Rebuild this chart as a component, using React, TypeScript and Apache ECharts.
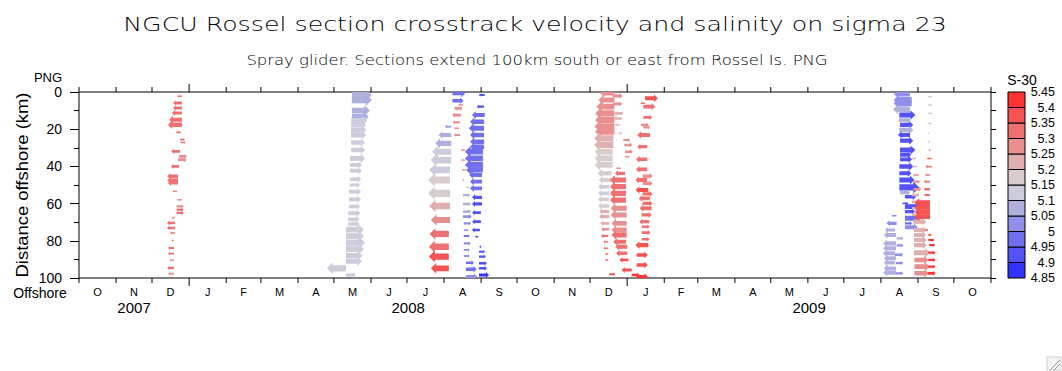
import React, { useEffect, useRef } from "react";
import * as echarts from "echarts";

const TITLE = "NGCU Rossel section crosstrack velocity and salinity on sigma 23";
const SUBTITLE = "Spray glider. Sections extend 100km south or east from Rossel Is. PNG";
const MONTH_LABELS = ["O","N","D","J","F","M","A","M","J","J","A","S","O","N","D","J","F","M","A","M","J","J","A","S","O"];
const YEAR_LABELS = ["2007", "2008", "2009"];
const SAL_LEVELS = [4.85, 4.9, 4.95, 5, 5.05, 5.1, 5.15, 5.2, 5.25, 5.3, 5.35, 5.4, 5.45];
const SAL_COLORS = ["#3333ff","#5252f5","#7070ee","#9090e8","#b0b0e0","#ccccdd","#d8cccc","#e0b0b0","#e89090","#ee7070","#f55252","#ff3333"];

// rows: [days since 1 Oct 2007, distance offshore km, crosstrack velocity cm/s (+ = right), salinity-30]
const dec2007 = [
  [86, 2.3, -12, 5.32], [86, 5.9, -22, 5.32], [86, 8.6, -22, 5.32], [86, 11.3, -25, 5.32],
  [86, 14.9, -32, 5.32], [86, 17.6, -35, 5.32], [85, 21.7, -12, 5.32], [84.4, 25.6, 12, 5.32],
  [85, 27.1, 12, 5.32], [84.4, 31.9, -22, 5.32], [83.5, 34.6, 20, 5.27], [82.7, 36.4, 22, 5.27],
  [83.5, 40, -20, 5.32], [82.7, 45.3, -27, 5.32], [82.7, 47.5, -27, 5.32], [82.7, 48.9, -25, 5.32],
  [82, 53.4, -12, 5.27], [82, 57.9, 12, 5.27], [81.5, 61.5, 18, 5.27], [81.5, 63.2, 18, 5.32],
  [81.5, 65, 18, 5.32], [80.2, 67.7, -8, 5.32], [80.2, 70.4, -20, 5.32], [80.2, 73.1, -20, 5.32],
  [80.2, 75.8, -12, 5.32], [79, 79.9, -5, 5.32], [79.4, 83.9, -15, 5.32], [79.4, 86.9, -15, 5.32],
  [79.4, 90.5, -12, 5.27], [79.4, 94.6, -17, 5.32], [79.4, 97.7, -15, 5.27],
];
const may2008 = [
  [228, 1.6, 50, 5.07], [228, 4.3, 50, 5.07], [228, 10, 45, 5.07], [228, 13.3, 42, 5.07],
  [227.5, 15.4, 40, 5.12], [227.3, 17.7, 38, 5.12], [227.3, 20.4, 38, 5.12], [227.3, 23.1, 38, 5.12],
  [227.3, 27.2, 35, 5.12], [227.3, 31.2, 35, 5.12], [226.4, 35.7, 38, 5.12], [226.4, 39.2, 30, 5.12],
  [226.4, 42.3, 30, 5.12], [226.4, 46.9, 28, 5.12], [226.4, 50, 25, 5.12], [225.6, 53.6, 30, 5.12],
  [225.6, 57.7, 30, 5.12], [225.6, 61.6, 28, 5.12], [225, 65.2, 30, 5.12], [225, 68.5, 28, 5.12],
  [225, 71, 28, 5.12], [223, 74, 45, 5.12], [223, 77.5, 45, 5.12], [223, 81, 48, 5.12],
  [223, 84.5, 45, 5.12], [223, 88, 42, 5.12], [223, 91, 40, 5.12], [223.1, 94.8, -48, 5.12],
  [223, 98.4, 25, 5.12],
];
const aug2008A = [
  [311, 18.6, -15, 5.02], [311, 23.1, -32, 5.07], [311, 27.6, -40, 5.07], [311, 32.1, -48, 5.12],
  [311, 36.6, -52, 5.12], [310, 41.9, -52, 5.12], [310, 47.3, -55, 5.17], [310, 54.5, -55, 5.17],
  [310, 61.3, -52, 5.22], [310, 68.8, -48, 5.27], [309, 76.3, -48, 5.32], [309, 83.2, -50, 5.32],
  [309, 88.5, -50, 5.37], [309, 94.8, -45, 5.37],
];
const aug2008B = [
  [312, 0.7, 32, 4.97], [312, 4.7, 28, 4.97], [320.8, 7, -12, 5.27], [320, 8.8, -20, 5.27],
  [319.2, 12.4, -22, 5.27], [318.3, 16.3, -18, 5.27], [317.5, 19.5, -12, 5.27], [318.3, 23.1, -15, 5.27],
  [322.5, 31.2, -10, 5.27], [322.5, 36.6, -10, 5.27], [323.3, 41.9, -10, 5.27], [321.5, 47.3, -4, 5.27],
  [323.3, 51.3, 10, 5.12], [320.8, 55.4, 18, 5.07], [320.8, 60.2, 20, 5.07], [320.8, 64.3, 20, 5.07],
  [320.8, 67, 22, 5.02], [321.5, 70.6, 18, 5.02], [321.5, 74.2, 12, 5.02], [321.5, 77.4, 15, 4.97],
  [321.5, 81.4, 17, 5.02], [321.5, 84.9, 15, 5.02], [321.5, 88.2, 15, 5.02], [323.3, 91.8, 20, 4.97],
  [323.3, 95.3, 27, 4.97], [323.3, 99.3, 28, 5.02],
];
const aug2008C = [
  [339, 1.6, -15, 4.92], [338.4, 7.9, -18, 4.92], [339, 12.4, -32, 4.97], [338.4, 16, -35, 4.97],
  [338.4, 19.5, -38, 4.97], [338.4, 23.1, -35, 4.97], [338.4, 26.7, -35, 4.97], [338.4, 29.4, -35, 4.97],
  [337.5, 32.1, -45, 4.97], [337.5, 35.7, -45, 4.97], [337.5, 39.2, -45, 4.97], [337.5, 41.9, -42, 4.97],
  [336.7, 44.6, -32, 4.97], [336.7, 48.2, -30, 4.97], [336.7, 51.8, -30, 4.97], [336.7, 56.6, -25, 4.92],
  [336.7, 60.2, -25, 4.92], [335.8, 64.9, -22, 4.92], [335.8, 69.7, -22, 4.92], [335, 74.2, -20, 4.92],
  [333.5, 77.8, -8, 4.92], [336, 83.2, -5, 4.92], [334.2, 85.9, 15, 4.92], [334.2, 88.5, 17, 4.92],
  [334.2, 92.1, 20, 4.92], [334.2, 94.8, 20, 4.92], [334.2, 98.4, 25, 4.87],
];
const dec2008A = [
  [447.3, 0.7, -35, 5.27], [447.3, 4.3, -40, 5.27], [447.3, 7.9, -45, 5.27], [447.3, 11.5, -48, 5.27],
  [447.3, 15.1, -48, 5.27], [447.3, 18.6, -50, 5.27], [447.3, 21.3, -48, 5.27], [446.4, 24.9, -48, 5.22],
  [446.4, 28.5, -48, 5.22], [445.9, 32.1, -45, 5.17], [445.9, 35.7, -45, 5.17], [445.9, 39.2, -45, 5.17],
  [445, 43.7, -35, 5.17], [445, 47.3, -32, 5.17], [443, 50.9, -28, 5.12], [443, 54.5, -28, 5.12],
  [443, 57.7, -28, 5.17], [443, 61.3, -28, 5.17], [443, 64.3, -25, 5.22], [443, 67, -25, 5.22],
  [443, 70.6, -22, 5.22], [443, 73.8, -20, 5.27], [442.2, 77.4, -18, 5.32], [442.2, 80.5, -12, 5.32],
  [442.2, 84, -12, 5.32], [442.2, 87.1, -8, 5.32], [442.2, 90.3, -8, 5.32], [443, 98, 15, 5.37],
];
const dec2008B = [
  [445.9, 2.1, 25, 5.27], [446.4, 6.4, 22, 5.27], [454.3, 11.5, -22, 5.22], [453.5, 14.2, -20, 5.22],
  [451.8, 17.7, -12, 5.22], [453.5, 22.2, -8, 5.22], [454.8, 25.8, 17, 5.27], [455.6, 28.5, 20, 5.27],
  [456.2, 32.1, 20, 5.27], [456.2, 34.8, 12, 5.27], [452.7, 41, -12, 5.27], [456.2, 43.7, -25, 5.32],
  [457, 47.3, -40, 5.32], [457, 50.9, -40, 5.32], [457, 54.5, -40, 5.32], [457, 58.1, -40, 5.32],
  [457.6, 62.5, -40, 5.27], [457.6, 66.1, -40, 5.27], [457.6, 70.6, -38, 5.27], [457.6, 74.2, -38, 5.27],
  [457.6, 76.9, -38, 5.32], [457, 80.5, -32, 5.32], [458.1, 83.2, -30, 5.32], [458.1, 86.7, -28, 5.32],
  [459, 90.3, -22, 5.37], [461.8, 95.7, -25, 5.37], [461.8, 98.4, 20, 5.42],
];
const jan2009 = [
  [473, 3.4, 32, 5.37], [473, 6.1, -12, 5.32], [471.5, 7.9, 30, 5.32], [471.5, 13.6, 22, 5.32],
  [469.5, 17.7, 20, 5.27], [471.5, 19, 17, 5.27], [477.1, 23.1, -32, 5.32], [474.8, 29.4, -25, 5.32],
  [474.8, 36.2, -28, 5.32], [474.8, 41.6, -28, 5.32], [470.9, 45.2, 25, 5.27], [474.8, 47.3, -30, 5.32],
  [470.9, 49.1, 25, 5.27], [475.7, 52.7, -32, 5.37], [470.9, 54.8, 25, 5.32], [477, 57.2, -28, 5.32],
  [470.9, 59.9, 25, 5.32], [478.4, 62.5, -30, 5.32], [470.1, 66.1, 25, 5.32], [476.5, 69.7, -25, 5.32],
  [470.1, 72.4, 20, 5.32], [470.1, 75.6, 22, 5.32], [470.1, 79.2, 20, 5.32], [475.7, 82.3, -32, 5.37],
  [465.9, 87.6, 28, 5.37], [465.9, 93, 28, 5.37], [465.9, 99.3, 28, 5.42],
];
const aug2009 = [
  [694.3, 1.1, -40, 5.02], [695.7, 4.3, -45, 5.02], [695.7, 6.1, -45, 5.02], [694.3, 9.3, -42, 5.07],
  [685.4, 12.4, 40, 4.92], [685, 15.1, 30, 5.07], [686, 17.7, 33, 4.92], [685.4, 20.4, 35, 5.07],
  [694.3, 23.1, -30, 4.92], [686, 26.2, 33, 4.92], [686, 31.2, 38, 4.92], [686, 33.8, 28, 4.92],
  [686, 36.2, 30, 4.92], [685.4, 40.1, 35, 4.92], [685.4, 43.7, 30, 4.92], [685.4, 47.3, 38, 4.92],
  [685.4, 51.3, 50, 4.92], [686, 54.1, 25, 5.07], [690.1, 56.3, 28, 4.92], [688, 59.9, 15, 4.92],
  [690.1, 61.6, 38, 4.92], [690.1, 64.3, 25, 4.92], [683.1, 66.5, -12, 5.02], [690.1, 67.9, 38, 4.97],
  [683.1, 70.6, -25, 5.02], [690.1, 70.6, 18, 4.97], [690.1, 72.7, 32, 5.02], [681.8, 74.2, -25, 5.07],
  [682.6, 76.9, -30, 5.07], [683.1, 78.7, 17, 5.07], [682.6, 81.4, -32, 5.07], [683.1, 82.5, 17, 5.02],
  [682.6, 84, -32, 5.07], [681.8, 86.7, -30, 5.07], [681.8, 87.5, 20, 5.02], [682.6, 89.4, -30, 5.07],
  [681.8, 91.8, -28, 5.07], [682.6, 92, 18, 5.02], [682.6, 94.8, -30, 5.07], [682.6, 97.1, -32, 5.07],
  [682.6, 97.5, 18, 5.02],
];
const sep2009A = [
  [695.7, 35.7, 12, 5.22], [696.5, 40.1, 12, 5.22], [697.1, 44.6, 15, 5.22], [697.1, 48.2, 17, 5.27],
  [697.1, 52.3, 20, 5.27], [695.7, 55.4, 20, 5.22], [696, 59, 18, 5.22], [696, 62.5, 18, 5.22],
  [696, 66, 18, 5.22], [697.1, 69.7, 32, 5.22], [697.6, 74.2, 32, 5.22], [697.6, 76.9, 30, 5.22],
  [697.6, 79.6, 32, 5.22], [697.6, 82.3, 32, 5.22], [697.6, 86.4, 40, 5.22], [698, 90.3, 35, 5.27],
  [698, 93.9, 38, 5.27], [698, 97.5, 35, 5.27],
];
const sep2009B = [
  [709.6, 2.5, 10, 5.12], [709.6, 7, 10, 5.12], [709.6, 11.5, 10, 5.12], [709.6, 16.8, 8, 5.12],
  [709.6, 22.2, 4, 5.17], [709.6, 26.7, 4, 5.22], [710, 31.2, 5, 5.27], [712.4, 35.7, -12, 5.32],
  [712.4, 40.1, -15, 5.32], [711, 44.6, -12, 5.32], [711, 48.2, -15, 5.32], [711, 52.3, -15, 5.37],
  [711, 55.4, -15, 5.32], [711, 59.5, -38, 5.38], [711, 62, -38, 5.38], [711, 64.5, -38, 5.38],
  [711, 67, -38, 5.38], [707, 74.2, 8, 5.37], [709.6, 76.9, 8, 5.42], [709.6, 79.6, 15, 5.42],
  [710.3, 82.3, 15, 5.42], [709.6, 86.4, 18, 5.42], [709.6, 90.3, 18, 5.42], [709.6, 93.9, 18, 5.42],
  [709, 97.5, 20, 5.42],
];

const ALL_VECTORS = [
  ...dec2007, ...may2008, ...aug2008A, ...aug2008B, ...aug2008C,
  ...dec2008A, ...dec2008B, ...jan2009, ...aug2009, ...sep2009A, ...sep2009B,
];

const DAY0 = Date.UTC(2007, 9, 1);
const dayOf = (y: number, m: number) => (Date.UTC(y, m, 1) - DAY0) / 86400000;
const MONTH_STARTS = Array.from({ length: MONTH_LABELS.length + 1 }, (_, k) => dayOf(2007, 9 + k));
const X_MAX = MONTH_STARTS[MONTH_STARTS.length - 1];
const TICK_DATA = MONTH_STARTS.map((d, k) => [
  d,
  k < MONTH_LABELS.length ? MONTH_STARTS[k + 1] : d,
  new Date(DAY0 + d * 86400000).getUTCMonth() === 0 ? 1 : 0,
]);
const YEAR_DATA = [
  [0, dayOf(2008, 0)],
  [dayOf(2008, 0), dayOf(2009, 0)],
  [dayOf(2009, 0), X_MAX],
];

const PX_PER_CMS = 0.4;
const FONT = "Liberation Sans";
const TITLE_FONT = "DejaVu Sans";

function bandColor(s: number) {
  let i = Math.floor((s - SAL_LEVELS[0]) / 0.05 + 1e-6);
  i = Math.max(0, Math.min(SAL_COLORS.length - 1, i));
  return SAL_COLORS[i];
}

function renderArrow(params: any, api: any) {
  const p = api.coord([api.value(0), api.value(1)]);
  const L = api.value(2) * PX_PER_CMS;
  const a = Math.abs(L);
  const s = L < 0 ? -1 : 1;
  const t = Math.max(1.4, a * 0.32);
  const hw = Math.max(2.8, a * 0.6);
  const hl = Math.min(a, Math.max(1.5, a * 0.3));
  const x0 = p[0], y0 = p[1];
  const xb = x0 + s * (a - hl);
  const xt = x0 + L;
  const points = [
    [x0, y0 - t / 2], [xb, y0 - t / 2], [xb, y0 - hw / 2], [xt, y0],
    [xb, y0 + hw / 2], [xb, y0 + t / 2], [x0, y0 + t / 2],
  ];
  return { type: "polygon", shape: { points }, style: { fill: bandColor(api.value(3)) } };
}

function renderTicks(params: any, api: any) {
  const k = params.dataIndex;
  const d0 = api.value(0), d1 = api.value(1), jan = api.value(2);
  const bot = api.coord([d0, 100]);
  const top = api.coord([d0, 0]);
  const len = jan ? 8 : 5;
  const children: any[] = [
    { type: "line", shape: { x1: bot[0], y1: bot[1], x2: bot[0], y2: bot[1] + len }, style: { stroke: "#000", lineWidth: 1 } },
    { type: "line", shape: { x1: top[0], y1: top[1], x2: top[0], y2: top[1] - len }, style: { stroke: "#000", lineWidth: 1 } },
  ];
  if (k < MONTH_LABELS.length) {
    const mid = api.coord([(d0 + d1) / 2, 100]);
    children.push({
      type: "text", x: mid[0], y: mid[1] + 14,
      style: { text: MONTH_LABELS[k], fill: "#000", fontSize: 11, fontFamily: FONT, align: "center", verticalAlign: "middle" },
    });
  }
  return { type: "group", children };
}

function renderYears(params: any, api: any) {
  const mid = api.coord([(api.value(0) + api.value(1)) / 2, 100]);
  return {
    type: "text", x: mid[0], y: mid[1] + 29,
    style: { text: YEAR_LABELS[params.dataIndex], fill: "#000", fontSize: 15, fontFamily: FONT, align: "center", verticalAlign: "middle" },
  };
}

function renderColorbar(params: any, api: any) {
  const p0 = api.coord([0, api.value(1)]);
  const p1 = api.coord([1, api.value(2)]);
  return {
    type: "rect",
    shape: { x: p0[0], y: p1[1], width: p1[0] - p0[0], height: p0[1] - p1[1] },
    style: { fill: SAL_COLORS[params.dataIndex], stroke: "#000", lineWidth: 1 },
  };
}

function measure(text: string, font: string) {
  const ctx = document.createElement("canvas").getContext("2d");
  if (!ctx) return 1;
  ctx.font = font;
  return ctx.measureText(text).width || 1;
}

export default function App() {
  const ref = useRef<HTMLDivElement>(null);
  useEffect(() => {
    document.body.style.margin = "0";
    if (!ref.current) return;
    const chart = echarts.init(ref.current, undefined, { renderer: "svg" });

    const titleW = measure(TITLE, `200 20px "${TITLE_FONT}"`);
    const subW = measure(SUBTITLE, `200 14px "${TITLE_FONT}"`);
    const yNameText = "Distance offshore (km)";
    const yNameW = measure(yNameText, `16px "${FONT}"`);

    const option: any = {
      animation: false,
      backgroundColor: "#fff",
      grid: [
        { left: 79, top: 92, width: 912, height: 186, show: true, borderColor: "#000", borderWidth: 1, backgroundColor: "transparent" },
        { left: 1008, top: 92, width: 17, height: 186 },
      ],
      xAxis: [
        { gridIndex: 0, type: "value", min: 0, max: X_MAX, show: false },
        { gridIndex: 1, type: "value", min: 0, max: 1, show: false },
      ],
      yAxis: [
        {
          gridIndex: 0, type: "value", inverse: true, min: 0, max: 100, interval: 20,
          axisLine: { show: false, onZero: false },
          axisTick: { show: true, length: 9, lineStyle: { color: "#000" } },
          minorTick: { show: true, splitNumber: 2, length: 5, lineStyle: { color: "#000" } },
          splitLine: { show: false }, minorSplitLine: { show: false },
          axisLabel: { color: "#000", fontSize: 14, fontFamily: FONT, margin: 17 },
        },
        {
          gridIndex: 0, type: "value", inverse: true, min: 0, max: 100, interval: 10, position: "right",
          axisLine: { show: false, onZero: false },
          axisTick: { show: true, length: 5, lineStyle: { color: "#000" } },
          axisLabel: { show: false }, splitLine: { show: false },
        },
        {
          gridIndex: 1, type: "value", min: 4.85, max: 5.45, interval: 0.05, position: "right",
          axisLine: { show: false, onZero: false }, axisTick: { show: false }, splitLine: { show: false },
          axisLabel: {
            color: "#000", fontSize: 12.5, fontFamily: FONT, align: "right", margin: 30,
            formatter: (v: number) => String(Number(v.toFixed(2))),
          },
        },
      ],
      series: [
        {
          type: "custom", name: "velocity", xAxisIndex: 0, yAxisIndex: 0, clip: true, silent: true,
          dimensions: ["day", "km", "u", "sal"], encode: { x: "day", y: "km" },
          renderItem: renderArrow, data: ALL_VECTORS,
        },
        {
          type: "custom", name: "months", xAxisIndex: 0, yAxisIndex: 0, clip: false, silent: true,
          encode: { x: 0, y: 1 }, renderItem: renderTicks, data: TICK_DATA, z: 5,
        },
        {
          type: "custom", name: "years", xAxisIndex: 0, yAxisIndex: 0, clip: false, silent: true,
          encode: { x: 0, y: 1 }, renderItem: renderYears, data: YEAR_DATA,
        },
        {
          type: "custom", name: "colorbar", xAxisIndex: 1, yAxisIndex: 2, clip: false, silent: true,
          encode: { x: 0, y: 1 }, renderItem: renderColorbar,
          data: SAL_COLORS.map((c, i) => [0, SAL_LEVELS[i], SAL_LEVELS[i + 1]]),
        },
      ],
      graphic: [
        {
          type: "text", x: 535, y: 24, scaleX: 824 / titleW, silent: true,
          style: { text: TITLE, fontSize: 20, fontWeight: 200, fontFamily: TITLE_FONT, fill: "#000", align: "center", verticalAlign: "middle" },
        },
        {
          type: "text", x: 537, y: 60, scaleX: 582 / subW, silent: true,
          style: { text: SUBTITLE, fontSize: 14, fontWeight: 200, fontFamily: TITLE_FONT, fill: "#000", align: "center", verticalAlign: "middle" },
        },
        {
          type: "text", x: 22, y: 185, rotation: Math.PI / 2, scaleX: 185 / yNameW, silent: true,
          style: { text: yNameText, fontSize: 16, fontFamily: FONT, fill: "#000", align: "center", verticalAlign: "middle" },
        },
        {
          type: "text", x: 48, y: 77, silent: true,
          style: { text: "PNG", fontSize: 13, fontFamily: FONT, fill: "#000", align: "center", verticalAlign: "middle" },
        },
        {
          type: "text", x: 40, y: 293, silent: true,
          style: { text: "Offshore", fontSize: 14, fontFamily: FONT, fill: "#000", align: "center", verticalAlign: "middle" },
        },
        {
          type: "text", x: 1022, y: 80, silent: true,
          style: { text: "S-30", fontSize: 14, fontFamily: FONT, fill: "#000", align: "center", verticalAlign: "middle" },
        },
        {
          type: "group", silent: true,
          children: [
            { type: "rect", shape: { x: 1047, y: 357, width: 14, height: 13 }, style: { fill: "#f4f4f4", stroke: "#d0d0d0", lineWidth: 1 } },
            { type: "line", shape: { x1: 1060, y1: 360, x2: 1050, y2: 370 }, style: { stroke: "#999", lineWidth: 1 } },
            { type: "line", shape: { x1: 1060, y1: 364, x2: 1054, y2: 370 }, style: { stroke: "#999", lineWidth: 1 } },
          ],
        },
      ],
    };
    chart.setOption(option);
    return () => chart.dispose();
  }, []);
  return <div ref={ref} style={{ width: 1062, height: 371 }} />;
}
